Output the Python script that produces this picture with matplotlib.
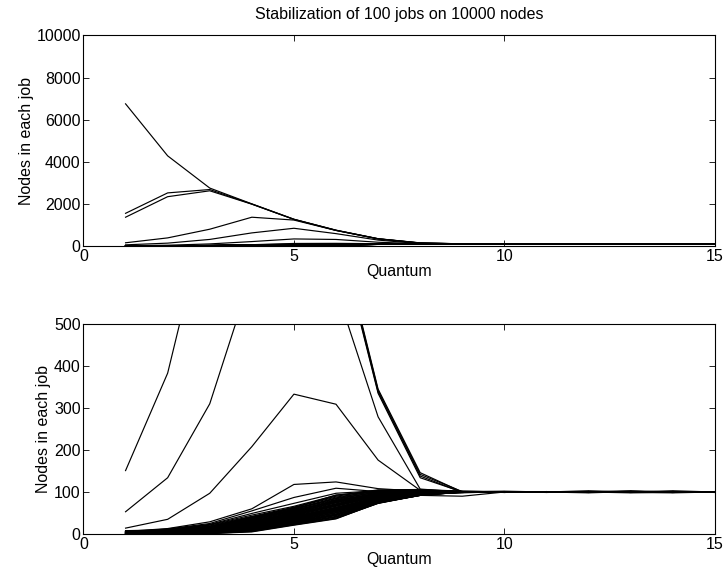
import matplotlib
matplotlib.use('Agg')
import matplotlib.pyplot as plt

plt.rcParams['font.family'] = ['Liberation Sans', 'DejaVu Sans']

quanta = list(range(1, 16))

# the few big jobs that start out holding most of the nodes
job_a = [6750, 4280, 2750, 2000, 1270, 750, 345, 146, 100, 100, 100, 100, 100, 100, 100]
job_b = [1550, 2520, 2680, 1990, 1265, 745, 342, 142, 101, 100, 100, 101, 100, 100, 100]
job_c = [1365, 2340, 2620, 1985, 1260, 740, 338, 138, 99, 100, 100, 100, 101, 99, 100]
job_d = [151, 383, 795, 1365, 1230, 735, 335, 134, 100, 100, 101, 100, 100, 100, 100]
job_f = [53, 134, 310, 620, 840, 585, 279, 107, 100, 100, 100, 100, 99, 100, 100]
job_e = [14, 35, 97, 208, 333, 309, 176, 104, 100, 101, 100, 100, 100, 100, 100]
job_g = [6, 13, 29, 60, 118, 124, 108, 102, 100, 100, 101, 100, 100, 100, 100]
job_h = [5, 12, 25, 55, 87, 109, 101, 100, 100, 100, 100, 100, 100, 101, 100]
job_i = [4, 11, 23, 49, 73, 97, 103, 101, 100, 100, 100, 99, 100, 100, 100]

# the small jobs that grow towards 100
small_jobs = [
    [8, 10, 22, 45, 66, 92, 105, 106, 102, 101, 100, 103, 100, 100, 100],
    [7, 9, 21, 42, 64, 90, 104, 105, 101, 100, 101, 100, 102, 99, 100],
    [7, 9, 19, 40, 62, 93, 101, 104, 100, 102, 100, 100, 101, 100, 99],
    [6, 8, 18, 39, 63, 88, 102, 105, 100, 100, 100, 98, 101, 100, 100],
    [6, 8, 18, 41, 60, 86, 103, 103, 99, 100, 100, 100, 100, 103, 100],
    [6, 8, 17, 38, 61, 84, 100, 104, 101, 99, 100, 101, 100, 100, 100],
    [5, 7, 16, 37, 59, 82, 101, 103, 101, 100, 100, 100, 98, 100, 101],
    [5, 7, 16, 36, 58, 85, 99, 102, 100, 100, 99, 100, 101, 100, 101],
    [5, 7, 17, 35, 56, 80, 98, 103, 102, 100, 100, 100, 99, 98, 100],
    [5, 7, 15, 35, 55, 81, 97, 102, 100, 100, 101, 100, 100, 99, 100],
    [5, 6, 15, 34, 57, 78, 97, 101, 100, 101, 100, 99, 100, 101, 100],
    [4, 6, 14, 33, 53, 79, 95, 102, 99, 100, 100, 100, 103, 100, 99],
    [4, 6, 14, 32, 54, 77, 96, 101, 99, 101, 100, 100, 100, 100, 100],
    [4, 6, 13, 30, 52, 75, 96, 100, 101, 100, 101, 100, 100, 100, 100],
    [4, 6, 13, 29, 51, 76, 94, 100, 100, 100, 100, 99, 101, 100, 100],
    [4, 5, 12, 31, 50, 74, 93, 101, 100, 99, 100, 101, 100, 99, 100],
    [3, 5, 12, 28, 49, 72, 94, 99, 100, 100, 100, 100, 101, 100, 100],
    [3, 5, 12, 29, 48, 71, 93, 100, 101, 100, 100, 100, 100, 100, 99],
    [3, 5, 11, 27, 46, 70, 92, 100, 98, 101, 100, 100, 100, 100, 101],
    [3, 5, 11, 27, 47, 69, 91, 99, 100, 99, 101, 100, 100, 101, 100],
    [3, 4, 10, 26, 45, 68, 90, 98, 101, 100, 99, 100, 100, 101, 100],
    [3, 4, 10, 25, 43, 67, 90, 98, 100, 100, 100, 100, 101, 100, 100],
    [3, 4, 10, 24, 44, 66, 89, 99, 100, 100, 100, 100, 99, 100, 100],
    [2, 4, 9, 23, 42, 63, 88, 97, 99, 100, 101, 100, 100, 100, 100],
    [2, 4, 9, 23, 41, 64, 87, 98, 99, 100, 100, 101, 100, 100, 100],
    [2, 3, 9, 22, 40, 62, 86, 98, 100, 101, 100, 99, 100, 100, 99],
    [2, 3, 8, 21, 40, 61, 86, 97, 100, 101, 100, 100, 99, 100, 100],
    [2, 3, 8, 20, 39, 60, 85, 96, 101, 100, 100, 101, 100, 100, 100],
    [2, 3, 8, 19, 37, 59, 84, 96, 101, 100, 99, 100, 100, 100, 101],
    [2, 3, 7, 19, 38, 58, 84, 97, 100, 99, 100, 100, 101, 99, 100],
    [2, 3, 7, 18, 36, 57, 83, 95, 99, 100, 100, 100, 100, 100, 101],
    [1, 3, 7, 18, 35, 56, 82, 95, 100, 100, 100, 100, 100, 101, 100],
    [1, 2, 6, 17, 35, 55, 82, 96, 100, 100, 101, 100, 100, 101, 100],
    [1, 2, 6, 16, 34, 54, 81, 95, 99, 100, 101, 100, 100, 100, 100],
    [1, 2, 6, 16, 33, 53, 80, 94, 101, 100, 100, 100, 99, 100, 100],
    [1, 2, 5, 15, 32, 51, 79, 95, 100, 101, 99, 100, 100, 100, 100],
    [1, 2, 5, 14, 31, 51, 79, 94, 100, 100, 100, 101, 100, 99, 100],
    [1, 2, 5, 13, 30, 50, 78, 93, 99, 100, 100, 101, 100, 100, 99],
    [1, 2, 4, 12, 29, 48, 77, 94, 100, 100, 100, 100, 100, 101, 100],
    [1, 2, 4, 12, 28, 47, 77, 93, 101, 100, 100, 100, 100, 100, 100],
    [1, 1, 4, 11, 28, 46, 76, 93, 101, 99, 100, 100, 101, 100, 100],
    [1, 1, 3, 10, 27, 45, 76, 93, 100, 99, 100, 100, 101, 100, 100],
    [1, 1, 3, 10, 26, 44, 75, 92, 100, 100, 100, 99, 100, 100, 101],
    [0, 1, 3, 9, 25, 42, 74, 93, 99, 101, 100, 100, 100, 99, 100],
    [0, 1, 2, 8, 25, 41, 75, 92, 100, 100, 100, 100, 100, 100, 101],
    [0, 1, 2, 8, 24, 40, 74, 92, 100, 100, 101, 100, 100, 100, 100],
    [0, 1, 2, 7, 23, 38, 73, 92, 90, 100, 100, 100, 100, 100, 100],
    [0, 1, 1, 6, 22, 37, 73, 93, 100, 100, 99, 101, 100, 100, 100],
    [0, 1, 1, 5, 21, 36, 74, 92, 101, 100, 100, 100, 100, 101, 100],
]

jobs = [job_a, job_b, job_c, job_d, job_f, job_e, job_g, job_h, job_i] + small_jobs

fig = plt.figure(figsize=(7.24, 5.76), dpi=100)
ax1 = fig.add_axes([0.1153, 0.573, 0.872, 0.3655])
ax2 = fig.add_axes([0.1153, 0.0729, 0.872, 0.3646])

for ax, top, step in [(ax1, 10000, 2000), (ax2, 500, 100)]:
    for job in jobs:
        ax.plot(quanta, job, color='black', lw=0.85)
    ax.set_xlim(0, 15)
    ax.set_ylim(0, top)
    ax.set_xticks([0, 5, 10, 15])
    ax.set_yticks(range(0, top + 1, step))
    ax.tick_params(direction='in', top=True, right=True, length=4.5, width=0.6,
                   labelsize=11.5, pad=2)
    for s in ax.spines.values():
        s.set_linewidth(0.8)
    ax.set_xlabel('Quantum', fontsize=11.5, labelpad=0)
    ax.set_ylabel('Nodes in each job', fontsize=11.5, labelpad=2)

ax1.set_title('Stabilization of 100 jobs on 10000 nodes', fontsize=11.5, pad=12)

fig.savefig('out.png', dpi=100)
